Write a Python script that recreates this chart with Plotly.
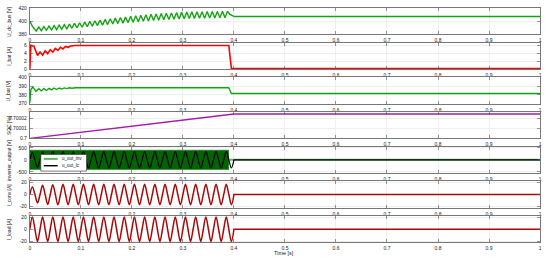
import numpy as np
import plotly.graph_objects as go

W, H = 550, 264

# ---------------- data ----------------
time_ticks = [0, 0.1, 0.2, 0.3, 0.4, 0.5, 0.6, 0.7, 0.8, 0.9, 1.0]
time_tick_text = ["0", "0.1", "0.2", "0.3", "0.4", "0.5", "0.6", "0.7", "0.8", "0.9", "1"]

# U_dc_bus: start transient, then 100 Hz ripple extremes (trough, peak per cycle), then steady
dc_start_t = [0.0, 0.005]
dc_start_v = [400.0, 392.0]
dc_troughs = [385.0, 385.5, 386.0, 386.5, 387.0, 387.5, 388.3, 389.1, 389.9, 390.7,
              391.5, 392.3, 393.1, 393.9, 394.7, 395.5, 396.2, 396.9, 397.6, 398.3,
              399.0, 399.6, 400.2, 400.8, 401.4, 402.0, 402.4, 402.8, 403.2, 403.6,
              404.0, 404.1, 404.3, 404.4, 404.6, 404.7, 404.9, 405.0]
dc_peaks = [391.0, 391.7, 392.4, 393.1, 393.8, 394.5, 395.5, 396.5, 397.5, 398.5,
            399.5, 400.5, 401.5, 402.5, 403.5, 404.5, 405.4, 406.3, 407.2, 408.1,
            409.0, 409.6, 410.2, 410.8, 411.4, 412.0, 412.4, 412.8, 413.2, 413.6,
            414.0, 414.1, 414.3, 414.4, 414.6, 414.7, 414.9, 415.0]
dc_end_t = [0.392, 0.4, 1.0]
dc_end_v = [410.0, 407.0, 407.0]

# I_bat
ibat_t = [0.0, 0.002, 0.008, 0.015, 0.02, 0.025, 0.03, 0.035, 0.04, 0.045, 0.05,
          0.055, 0.06, 0.065, 0.07, 0.075, 0.08, 0.09, 0.39, 0.395, 1.0]
ibat_v = [0.0, 6.0, 5.8, 3.4, 4.3, 3.5, 4.6, 3.9, 4.9, 4.3, 5.2,
          4.7, 5.5, 5.1, 5.7, 5.5, 5.85, 5.95, 5.95, 0.08, 0.08]

# U_bat
ubat_t = [0.0, 0.002, 0.006, 0.012, 0.0175, 0.0225, 0.0275, 0.0325, 0.0375, 0.0425,
          0.0475, 0.0525, 0.0575, 0.0625, 0.0675, 0.0725, 0.0775, 0.0825, 0.09,
          0.39, 0.395, 1.0]
ubat_v = [371.0, 386.0, 389.0, 384.0, 387.0, 384.5, 387.2, 385.0, 387.4, 385.6,
          387.6, 386.1, 387.8, 386.6, 387.9, 387.1, 388.0, 387.6, 388.0,
          388.0, 381.5, 381.5]

# SOC
soc_t = [0.0, 0.39, 0.4, 1.0]
soc_v = [0.7, 0.700024, 0.700024, 0.700024]

# inverter output: PWM band (u_out_inv) and filtered output (u_out_lc)
inv_band_t = [0.0, 0.39]
inv_band_hi = [405.0, 405.0]
inv_band_lo = [-405.0, -405.0]
inv_after_t = [0.39, 1.0]
inv_after_v = [0.0, 0.0]
lc_pos_peaks = [300, 330, 340, 340, 340, 340, 340, 340, 340, 340,
                340, 340, 340, 340, 340, 340, 340, 340, 340, 340]
lc_neg_peaks = [-320, -335, -340, -340, -340, -340, -340, -340, -340, -340,
                -340, -340, -340, -340, -340, -340, -340, -340, -340, -340]
lc_after_t = [0.4, 1.0]
lc_after_v = [0.0, 0.0]
legend_names = ["u_out_inv", "u_out_lc"]

# I_conv
iconv_pos_peaks = [12.5, 15.5, 16.5, 17, 17, 17, 17, 17, 17, 17,
                   17, 17, 17, 17, 17, 17, 17, 17, 17, 17]
iconv_neg_peaks = [-14, -16.5, -17, -17, -17, -17, -17, -17, -17, -17,
                   -17, -17, -17, -17, -17, -17, -17, -17, -17, -17]
iconv_after_t = [0.4, 1.0]
iconv_after_v = [0.0, 0.0]

# I_load
iload_pos_peaks = [20.5, 20.5, 20.5, 20.5, 20.5, 20.5, 20.5, 20.5, 20.5, 20.5,
                   20.5, 20.5, 20.5, 20.5, 20.5, 20.5, 20.5, 20.5, 20.5, 20.5]
iload_neg_peaks = [-20.5, -20.5, -20.5, -20.5, -20.5, -20.5, -20.5, -20.5, -20.5, -20.5,
                   -20.5, -20.5, -20.5, -20.5, -20.5, -20.5, -20.5, -20.5, -20.5, -20.5]
iload_after_t = [0.4, 1.0]
iload_after_v = [0.0, 0.0]

panel_titles = ["U_dc_bus [V]", "I_bat [A]", "U_bat [V]", "SOC [%]",
                "inverter_output [V]", "I_conv [A]", "I_load [A]"]
y_ranges = [[380, 420], [0, 6.7], [370, 400], [0.7, 0.700026],
            [-550, 550], [-22, 22], [-22, 22]]
y_tickvals = [[380, 400, 420], [0, 2, 4, 6], [370, 380, 390, 400],
              [0.7, 0.70001, 0.70002], [-500, 0, 500], [-20, 0, 20], [-20, 0, 20]]
y_ticktext = [["380", "400", "420"], ["0", "2", "4", "6"], ["370", "380", "390", "400"],
              ["0.7", "0.70001", "0.70002"], ["-500", "0", "500"], ["-20", "0", "20"],
              ["-20", "0", "20"]]

# ---------------- helpers ----------------
def ripple_series(troughs, peaks, t0):
    t, v = [], []
    for j, (lo, hi) in enumerate(zip(troughs, peaks)):
        t += [t0 + 0.01 * j, t0 + 0.01 * j + 0.005]
        v += [lo, hi]
    return t, v


def sine_series(pos, neg):
    # samples at zero crossings and extremes of a 50 Hz waveform (quarter-period spacing)
    t, v = [0.0], [0.0]
    for k, (p, n) in enumerate(zip(pos, neg)):
        base = 0.02 * k
        t += [base + 0.005, base + 0.01, base + 0.015, base + 0.02]
        v += [p, 0.0, n, 0.0]
    return t, v


def px(x):
    return x / W


def py(y):
    return 1 - y / H


# ---------------- figure ----------------
fig = go.Figure()

px_top = [5, 40.5, 76, 111.5, 147, 182.5, 218]
px_bot = [32, 67.5, 103, 138.5, 174, 209.5, 245]
x_dom = [px(29), px(542)]

green = "rgb(20,165,20)"
red = "rgb(255,0,0)"
purple = "rgb(160,30,170)"
dkred = "rgb(165,10,10)"
inv_green = "rgb(100,180,100)"

# panel 1
rt, rv = ripple_series(dc_troughs, dc_peaks, 0.0125)
fig.add_trace(go.Scatter(x=dc_start_t + rt + dc_end_t[:2], y=dc_start_v + rv + dc_end_v[:2],
                         mode="lines", line=dict(color=green, width=1.4),
                         xaxis="x", yaxis="y", showlegend=False))
fig.add_trace(go.Scatter(x=dc_end_t[1:], y=dc_end_v[1:], mode="lines",
                         line=dict(color=green, width=1.6), xaxis="x", yaxis="y",
                         showlegend=False))
# panel 2
fig.add_trace(go.Scatter(x=ibat_t, y=ibat_v, mode="lines", line=dict(color=red, width=1.6),
                         xaxis="x2", yaxis="y2", showlegend=False))
# panel 3
fig.add_trace(go.Scatter(x=ubat_t, y=ubat_v, mode="lines", line=dict(color=green, width=1.4),
                         xaxis="x3", yaxis="y3", showlegend=False))
# panel 4
fig.add_trace(go.Scatter(x=soc_t, y=soc_v, mode="lines", line=dict(color=purple, width=1.4),
                         xaxis="x4", yaxis="y4", showlegend=False))
# panel 5
fig.add_trace(go.Scatter(x=inv_band_t, y=inv_band_hi, mode="lines",
                         line=dict(color="rgb(0,110,0)", width=0.5),
                         xaxis="x5", yaxis="y5", showlegend=False, hoverinfo="skip"))
fig.add_trace(go.Scatter(x=inv_band_t, y=inv_band_lo, mode="lines", fill="tonexty",
                         fillcolor="rgb(0,100,0)", line=dict(color="rgb(0,110,0)", width=0.5),
                         xaxis="x5", yaxis="y5", showlegend=False, hoverinfo="skip"))
fig.add_trace(go.Scatter(x=inv_after_t, y=inv_after_v, mode="lines",
                         line=dict(color=inv_green, width=2),
                         xaxis="x5", yaxis="y5", name=legend_names[0], showlegend=False))
lt, lv = sine_series(lc_pos_peaks, lc_neg_peaks)
fig.add_trace(go.Scatter(x=lt + lc_after_t, y=lv + lc_after_v, mode="lines",
                         line=dict(color="black", width=1.2, shape="spline", smoothing=1),
                         xaxis="x5", yaxis="y5", name=legend_names[1], showlegend=False))
# panel 6
ct, cv = sine_series(iconv_pos_peaks, iconv_neg_peaks)
fig.add_trace(go.Scatter(x=ct + iconv_after_t, y=cv + iconv_after_v, mode="lines",
                         line=dict(color=dkred, width=1.5, shape="spline", smoothing=1),
                         xaxis="x6", yaxis="y6", showlegend=False))
# panel 7
lt2, lv2 = sine_series(iload_pos_peaks, iload_neg_peaks)
fig.add_trace(go.Scatter(x=lt2 + iload_after_t, y=lv2 + iload_after_v, mode="lines",
                         line=dict(color=dkred, width=1.5, shape="spline", smoothing=1),
                         xaxis="x7", yaxis="y7", showlegend=False))

font_family = "Liberation Sans, Arial, sans-serif"
tickfont = dict(family=font_family, size=5, color="#222")
layout = dict(
    width=W, height=H, margin=dict(l=0, r=0, t=0, b=0),
    paper_bgcolor="white", plot_bgcolor="white",
    showlegend=False, hovermode=False,
    annotations=[],
    shapes=[],
)
for i in range(7):
    sfx = "" if i == 0 else str(i + 1)
    y0 = py(px_bot[i])
    y1 = py(px_top[i])
    layout["xaxis" + sfx] = dict(
        domain=x_dom, anchor="y" + sfx, range=[0, 1],
        tickvals=time_ticks, ticktext=time_tick_text,
        ticks="inside", ticklen=3, tickwidth=0.6, tickcolor="#555",
        showline=True, linecolor="#777", linewidth=1, mirror="allticks",
        showgrid=True, gridcolor="#e4e4e4", gridwidth=0.6, zeroline=False,
        tickfont=tickfont, ticklabelstandoff=1, fixedrange=True,
    )
    layout["yaxis" + sfx] = dict(
        domain=[y0, y1], anchor="x" + sfx, range=y_ranges[i],
        tickvals=y_tickvals[i], ticktext=y_ticktext[i],
        ticks="inside", ticklen=3, tickwidth=0.6, tickcolor="#555",
        showline=True, linecolor="#777", linewidth=1, mirror="allticks",
        showgrid=True, gridcolor="#e4e4e4", gridwidth=0.6, zeroline=False,
        tickfont=tickfont, ticklabelstandoff=1, fixedrange=True,
    )
    layout["annotations"].append(dict(
        text=panel_titles[i], xref="paper", yref="paper",
        x=px(8), y=(y0 + y1) / 2, xanchor="center", yanchor="middle",
        textangle=-90, showarrow=False,
        font=dict(family=font_family, size=5, color="#222"),
    ))
layout["annotations"].append(dict(
    text="Time [s]", xref="paper", yref="paper", x=px(285), y=py(256),
    xanchor="center", yanchor="middle", showarrow=False,
    font=dict(family=font_family, size=5.5, color="#222"),
))

# hand-drawn compact legend for the inverter panel
layout["shapes"].append(dict(type="rect", xref="paper", yref="paper",
                             x0=px(40), x1=px(86), y0=py(172), y1=py(155),
                             fillcolor="white", line=dict(color="#333", width=0.6),
                             layer="above"))
legend_colors = [inv_green, "black"]
legend_widths = [2, 1.4]
for k, (name, col, lw) in enumerate(zip(legend_names, legend_colors, legend_widths)):
    yy = 159.5 + 7 * k
    layout["shapes"].append(dict(type="line", xref="paper", yref="paper",
                                 x0=px(43), x1=px(57), y0=py(yy), y1=py(yy),
                                 line=dict(color=col, width=lw), layer="above"))
    layout["annotations"].append(dict(
        text=name, xref="paper", yref="paper", x=px(59), y=py(yy),
        xanchor="left", yanchor="middle", showarrow=False,
        font=dict(family=font_family, size=4.5, color="#111"),
    ))

fig.update_layout(**layout)
fig.write_html("out.html", config={"displayModeBar": False, "staticPlot": True},
               post_script="document.body.style.margin='0';document.body.style.padding='0';")
